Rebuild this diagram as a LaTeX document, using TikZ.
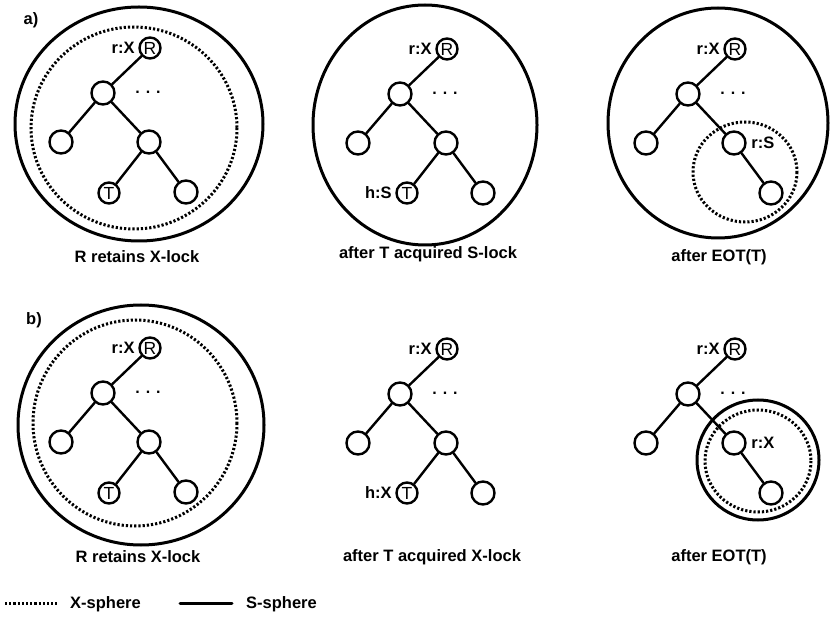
\documentclass[tikz,border=0pt]{standalone}
\usepackage{fontspec}
\setmainfont{Liberation Sans}
\usepackage{tikz}
\usetikzlibrary{positioning}
\tikzset{%
	treenode/.style={
		circle,
		draw,
		fill=white,
		line width=2.4pt,
		minimum size=23pt,
		inner sep=0pt
	},
	lockednode/.style={
		treenode,
		minimum size=21pt,
		font=\fontsize{17.5}{17.5}\selectfont
	},
	lockmark/.style={font=\bfseries\fontsize{16.5}{17}\selectfont, inner sep=3.5pt},
	dotsmark/.style={font=\bfseries\fontsize{16}{17}\selectfont, inner sep=0pt, anchor=base},
	caption/.style={font=\bfseries\fontsize{16.5}{20}\selectfont},
	branch/.style={line width=2.4pt},
	xsphere/.style={line width=3pt, line cap=butt, dash pattern=on 2.2pt off 2pt},
	ssphere/.style={line width=3pt},
}
\begin{document}
\begin{tikzpicture}[x=1pt, y=-1pt, line cap=round]
\useasboundingbox (0,0) rectangle (830,617);

% spheres
\draw[ssphere] (139,124) ellipse [x radius=124, y radius=117];
\draw[xsphere] (134,128) ellipse [x radius=103, y radius=101];
\draw[ssphere] (425,125) ellipse [x radius=112, y radius=120];
\draw[ssphere] (718,123) ellipse [x radius=110, y radius=115];
\draw[xsphere] (745,172) ellipse [x radius=52, y radius=50];
\draw[ssphere] (141,425) ellipse [x radius=123, y radius=120];
\draw[xsphere] (135,423) ellipse [x radius=102, y radius=103];
\draw[ssphere] (758,460) ellipse [x radius=61, y radius=60];
\draw[xsphere] (758,461) ellipse [x radius=53, y radius=51];

% trees
\foreach \p/\x/\y in {a1/150/48, a2/447/49, a3/735/49, b1/150/348, b2/447/349, b3/735/349}{
	\node[lockednode, label={[lockmark]left:{r:X}}] (\p R) at (\x,\y) {R};
	\node[treenode] (\p m) at (\x-47,\y+45) {};
	\node[treenode] (\p l) at (\x-89,\y+94) {};
	\node[treenode] (\p r) at (\x-1,\y+94) {};
	\node[treenode] (\p rr) at (\x+36,\y+144) {};
	\node[dotsmark] (\p dots) at (\x-2,\y+46) {. . .};
	\draw[branch] (\p R) -- (\p m) (\p m) -- (\p l) (\p m) -- (\p r) (\p r) -- (\p rr);
}

\node[lockednode] (a1T) at (109,193) {T};
\node[lockednode, label={[lockmark]left:{h:S}}] (a2T) at (407,193) {T};
\node[lockednode] (b1T) at (109,493) {T};
\node[lockednode, label={[lockmark]left:{h:X}}] (b2T) at (407,493) {T};
\foreach \p in {a1, a2, b1, b2}
	\draw[branch] (\p r) -- (\p T);

\node[lockmark, right=1pt of a3r] (a3lock) {r:S};
\node[lockmark, right=1pt of b3r] (b3lock) {r:X};

% captions
\node[caption] (alabel) at (31,20) {a)};
\node[caption] (blabel) at (34,320) {b)};
\node[caption] (a1cap) at (137,257) {R retains X-lock};
\node[caption] (a2cap) at (428,254) {after T acquired S-lock};
\node[caption] (a3cap) at (719,257) {after EOT(T)};
\node[caption] (b1cap) at (138,557) {R retains X-lock};
\node[caption] (b2cap) at (432,557) {after T acquired X-lock};
\node[caption] (b3cap) at (719,557) {after EOT(T)};

% legend
\coordinate (xs1) at (5,603);
\coordinate (xs2) at (57,603);
\coordinate (ss1) at (180,603);
\coordinate (ss2) at (232,603);
\draw[xsphere] (xs1) -- (xs2);
\draw[ssphere] (ss1) -- (ss2);
\node[caption, anchor=west, inner sep=0pt] (xstext) at (70,604) {X-sphere};
\node[caption, anchor=west, inner sep=0pt] (sstext) at (246,604) {S-sphere};
\end{tikzpicture}
\end{document}
